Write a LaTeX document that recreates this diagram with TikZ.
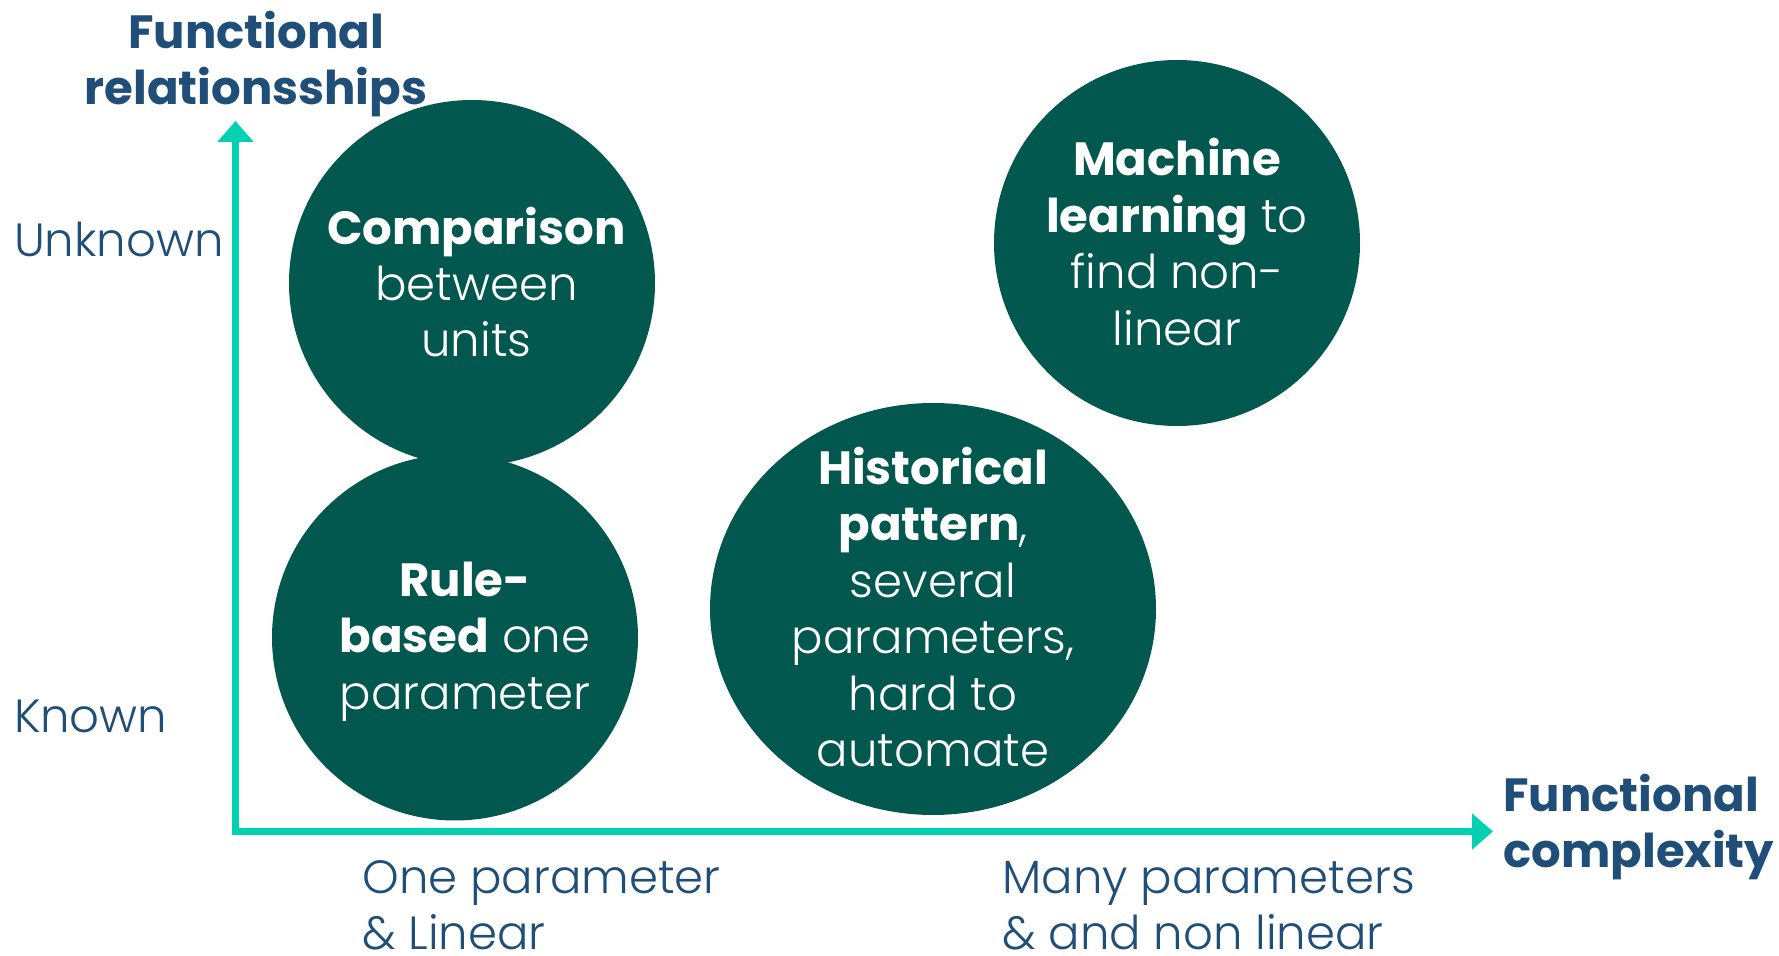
\documentclass[tikz,border=0pt]{standalone}
\usepackage{fontspec}
\setmainfont{Poppins}[UprightFont=* Light, BoldFont=* Bold]
\usetikzlibrary{arrows.meta,shapes.geometric}
\definecolor{axisteal}{HTML}{00D1B2}
\definecolor{bubblegreen}{HTML}{02574E}
\definecolor{labelblue}{HTML}{1F4E79}
\newcommand{\bigfont}{\fontsize{23.3}{28.2}\selectfont}

\begin{document}
\begin{tikzpicture}[
		x=0.5pt, y=-0.5pt,
		bubble/.style={circle,fill=bubblegreen,inner sep=0pt,minimum size=183pt},
		oval/.style={ellipse,fill=bubblegreen,inner sep=0pt,minimum width=223pt,minimum height=206pt},
		bubbletext/.style={text=white,inner sep=0pt,align=center,font=\bigfont},
		lab/.style={text=labelblue,inner sep=0pt,align=left,font=\bigfont},
		axtitle/.style={lab,font=\bigfont\bfseries},
		axis/.style={draw=axisteal,line width=3.75pt},
		>={Triangle[length=10.5pt,width=17.5pt]}]
	\useasboundingbox (0,0) rectangle (1779,956);
	%% define axes
	\coordinate (ytip) at (235.5,121);
	\coordinate (xtip) at (1493,831.5);
	\draw[axis,<->] (ytip) |- (xtip);
	\node[axtitle,align=center] (ytitle) at (256,64) {Functional\\relationsships};
	\node[axtitle,anchor=west] (xtitle) at (1503,827) {Functional\\complexity};
	%% define axis labels
	\node[lab,anchor=west] (unknown) at (13.6,239.4) {Unknown};
	\node[lab,anchor=west] (known) at (13.6,716) {Known};
	\node[lab,anchor=west] (oneparam) at (362,905.5) {One parameter\\\& Linear};
	\node[lab,anchor=west] (manyparam) at (1002,905.5) {Many parameters\\\& and non linear};
	%% define bubbles
	\node[bubble] (comparison) at (472,283) {};
	\node[bubble] (rulebased) at (455,637.5) {};
	\node[oval] (historical) at (933,609) {};
	\node[bubble] (machine) at (1177,243) {};
	%% bubble texts
	\node[bubbletext] (comparisontext) at ([xshift=2.2pt,yshift=0.5pt]comparison) {\textbf{Comparison}\\between\\units};
	\node[bubbletext] (rulebasedtext) at ([xshift=5pt,yshift=-2pt]rulebased) {\textbf{Rule-}\\\textbf{based} one\\parameter};
	\node[bubbletext] (historicaltext) at ([yshift=1pt]historical) {\textbf{Historical}\\\textbf{pattern},\\several\\parameters,\\hard to\\automate};
	\node[bubbletext] (machinetext) at ([yshift=0.5pt]machine) {\textbf{Machine}\\\textbf{learning} to\\find non-\\linear};
\end{tikzpicture}
\end{document}
